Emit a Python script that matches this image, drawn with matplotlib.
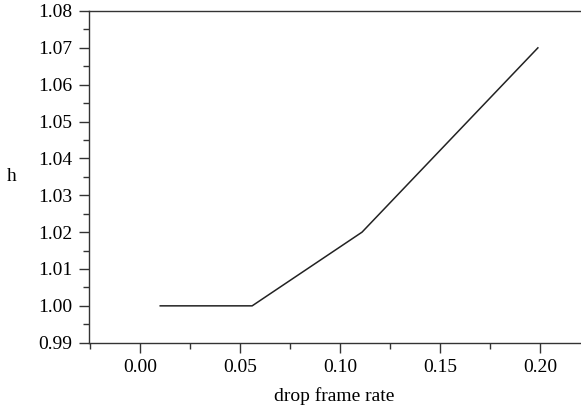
import matplotlib.pyplot as plt
from matplotlib.ticker import MultipleLocator

drop_rate = [0.01, 0.056, 0.111, 0.199]
h_values = [1.00, 1.00, 1.02, 1.07]

plt.rcParams['font.family'] = 'Liberation Serif'
plt.rcParams['font.size'] = 14

fig = plt.figure(figsize=(5.81, 4.15), dpi=100)
ax = fig.add_axes([0.1537, 0.1742, 0.8443, 0.7993])

ax.plot(drop_rate, h_values, color='#222222', linewidth=1.1)

ax.set_xlim(-0.0255, 0.22)
ax.set_ylim(0.99, 1.08)
ax.xaxis.set_major_locator(MultipleLocator(0.05))
ax.xaxis.set_minor_locator(MultipleLocator(0.025))
ax.yaxis.set_major_locator(MultipleLocator(0.01))
ax.yaxis.set_minor_locator(MultipleLocator(0.005))
ax.xaxis.set_major_formatter(lambda v, p: f"{v:.2f}")
ax.yaxis.set_major_formatter(lambda v, p: f"{v:.2f}")

ax.spines['right'].set_visible(False)
for s in ['left', 'bottom', 'top']:
    ax.spines[s].set_color('#333333')
    ax.spines[s].set_linewidth(1.0)

ax.tick_params(which='major', direction='out', length=7, width=1, color='#333333', pad=5)
ax.tick_params(which='minor', direction='out', length=4, width=1, color='#333333')
ax.tick_params(top=False, right=False, which='both')

ax.set_xlabel('drop frame rate', labelpad=8)
ax.set_ylabel('h', rotation=0, va='center', ha='center')
ax.yaxis.set_label_coords(-0.158, 0.5)

fig.savefig('out.png', dpi=100)
